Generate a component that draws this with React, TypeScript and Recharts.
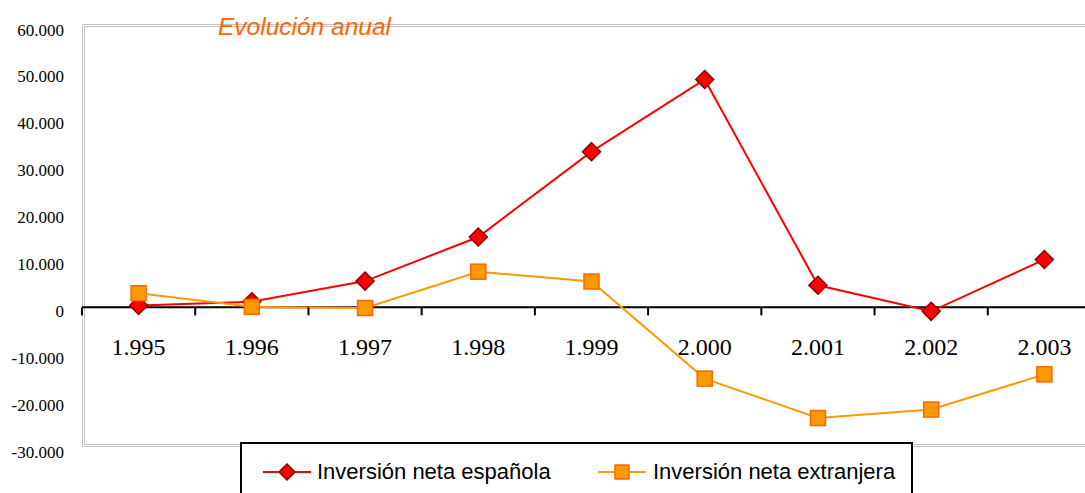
import React from 'react';
import { LineChart, Line, XAxis, YAxis, ReferenceLine, ReferenceArea } from 'recharts';

// ---- data ----
const YEARS = ['1.995', '1.996', '1.997', '1.998', '1.999', '2.000', '2.001', '2.002', '2.003'];
const ESPANOLA = [400, 1200, 5600, 15000, 33200, 48600, 4700, -850, 10200];
const EXTRANJERA = [3000, 100, -150, 7600, 5500, -15200, -23600, -21800, -14300];
const Y_TICKS = [-30000, -20000, -10000, 0, 10000, 20000, 30000, 40000, 50000, 60000];
const TITLE = 'Evolución anual';
const SERIES_NAMES = ['Inversión neta española', 'Inversión neta extranjera'];

const data = YEARS.map((year, i) => ({ year, espanola: ESPANOLA[i], extranjera: EXTRANJERA[i] }));

// ---- layout ----
const CHART_W = 1110;
const CHART_H = 493;
const MARGIN = { top: 26, right: 9, bottom: 15, left: 0 };
const Y_AXIS_W = 82;
const X_AXIS_H = 30;
const Y_MIN = -30000;
const Y_MAX = 60000;
const PLOT_H = CHART_H - MARGIN.top - MARGIN.bottom - X_AXIS_H;
const PLOT_W = CHART_W - MARGIN.left - MARGIN.right - Y_AXIS_W;
const ZERO_Y = MARGIN.top + (PLOT_H * Y_MAX) / (Y_MAX - Y_MIN);
const STEP = PLOT_W / YEARS.length;

const RED = '#FF0000';
const RED_DARK = '#8B0000';
const ORANGE = '#FF9900';
const ORANGE_DARK = '#FF6600';
const SERIF = "'Liberation Serif', 'Times New Roman', serif";
const SANS = "'Liberation Sans', Arial, sans-serif";

const fmt = (v: number) => {
  const s = Math.abs(v).toString().replace(/\B(?=(\d{3})+(?!\d))/g, '.');
  return (v < 0 ? '-' : '') + s;
};

const XTick = (props: any) => {
  const { x, payload } = props;
  return (
    <g>
      <line x1={x - STEP / 2} x2={x - STEP / 2} y1={ZERO_Y} y2={ZERO_Y + 8} stroke="#000" strokeWidth={2} />
      <text
        x={x}
        y={ZERO_Y + 48}
        textAnchor="middle"
        style={{ fontFamily: SERIF, fontSize: 24 }}
        fill="#000"
      >
        {payload.value}
      </text>
    </g>
  );
};

const YTick = (props: any) => {
  const { y, payload } = props;
  return (
    <text
      x={64}
      y={y + 9.5}
      textAnchor="end"
      style={{ fontFamily: SERIF, fontSize: 17 }}
      fill="#000"
    >
      {fmt(payload.value)}
    </text>
  );
};

const Frame = (props: any) => {
  const { x, y, width, height } = props;
  const left = x - STEP / 2;
  const w = width + STEP + 20;
  return (
    <g fill="none" stroke="#c4c4c4" strokeWidth={1}>
      <rect x={left + 0.5} y={y - 1.5} width={w} height={height} />
      <rect x={left + 2.5} y={y + 0.5} width={w} height={height - 4} />
    </g>
  );
};

const Diamond = ({ cx, cy, r = 9 }: any) => (
  <polygon
    points={`${cx},${cy - r} ${cx + r},${cy} ${cx},${cy + r} ${cx - r},${cy}`}
    fill={RED}
    stroke={RED_DARK}
    strokeWidth={1.5}
  />
);

const Square = ({ cx, cy, s = 15 }: any) => (
  <rect x={cx - s / 2} y={cy - s / 2} width={s} height={s} fill={ORANGE} stroke={ORANGE_DARK} strokeWidth={1.5} />
);

const LegendBox = () => (
  <div
    style={{
      position: 'absolute',
      left: 240,
      top: 442,
      width: 673,
      height: 80,
      boxSizing: 'border-box',
      border: '2px solid #000',
      background: '#fff',
      fontFamily: SANS,
      fontSize: 22,
      color: '#000',
    }}
  >
    <div style={{ position: 'absolute', left: 21, top: 15.5, height: 24, display: 'flex', alignItems: 'center' }}>
      <svg width={48} height={24}>
        <line x1={0} x2={48} y1={12} y2={12} stroke={RED} strokeWidth={2} />
        <Diamond cx={24} cy={12} r={8} />
      </svg>
      <span style={{ marginLeft: 6, lineHeight: '24px', whiteSpace: 'nowrap' }}>{SERIES_NAMES[0]}</span>
    </div>
    <div style={{ position: 'absolute', left: 356, top: 15.5, height: 24, display: 'flex', alignItems: 'center' }}>
      <svg width={48} height={24}>
        <line x1={0} x2={48} y1={12} y2={12} stroke={ORANGE} strokeWidth={2} />
        <Square cx={24} cy={12} s={14} />
      </svg>
      <span style={{ marginLeft: 7, lineHeight: '24px', whiteSpace: 'nowrap' }}>{SERIES_NAMES[1]}</span>
    </div>
  </div>
);

export default function App() {
  return (
    <div
      style={{
        position: 'fixed',
        left: 0,
        top: 0,
        width: 1085,
        height: 493,
        overflow: 'hidden',
        background: '#fff',
      }}
    >
      <LineChart width={CHART_W} height={CHART_H} data={data} margin={MARGIN}>
        <ReferenceArea y1={Y_MIN} y2={Y_MAX} shape={<Frame />} ifOverflow="visible" />
        <XAxis
          dataKey="year"
          axisLine={false}
          tickLine={false}
          height={X_AXIS_H}
          interval={0}
          padding={{ left: STEP / 2, right: STEP / 2 }}
          tick={<XTick />}
        />
        <YAxis
          domain={[Y_MIN, Y_MAX]}
          ticks={Y_TICKS}
          axisLine={false}
          tickLine={false}
          width={Y_AXIS_W}
          interval={0}
          tick={<YTick />}
        />
        <ReferenceLine y={0} stroke="#000" strokeWidth={2} />
        <Line
          type="linear"
          dataKey="espanola"
          stroke={RED}
          strokeWidth={2}
          isAnimationActive={false}
          dot={(p: any) => <Diamond key={`d${p.index}`} cx={p.cx} cy={p.cy} />}
        />
        <Line
          type="linear"
          dataKey="extranjera"
          stroke={ORANGE}
          strokeWidth={2}
          isAnimationActive={false}
          dot={(p: any) => <Square key={`s${p.index}`} cx={p.cx} cy={p.cy} />}
        />
      </LineChart>
      <svg
        width={1085}
        height={60}
        style={{ position: 'absolute', left: 0, top: 0, pointerEvents: 'none' }}
      >
        <text x={218} y={35} style={{ fontFamily: SANS, fontStyle: 'italic', fontSize: 24.5 }} fill={ORANGE_DARK}>
          {TITLE}
        </text>
      </svg>
      <LegendBox />
    </div>
  );
}
